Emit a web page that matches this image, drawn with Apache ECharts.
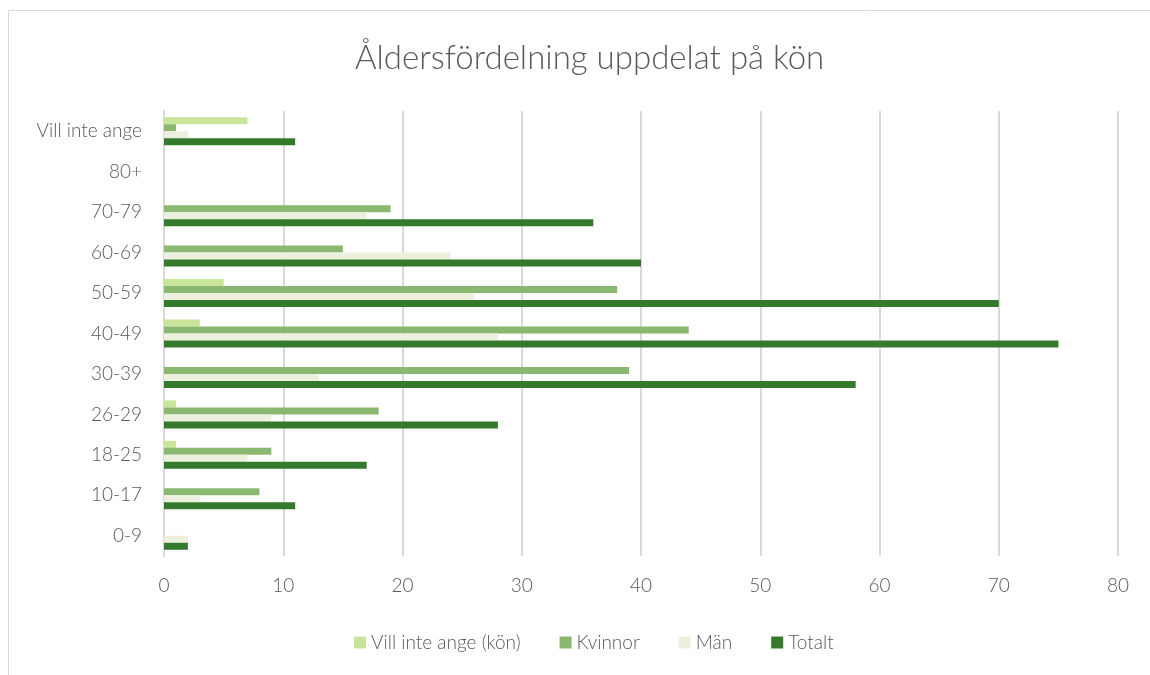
<!DOCTYPE html>
<html>
<head>
<meta charset="utf-8">
<script src="https://cdn.jsdelivr.net/npm/echarts@6/dist/echarts.min.js"></script>
<style>
  html, body { margin: 0; padding: 0; background: #fff; }
  #chart { width: 1150px; height: 675px; }
</style>
</head>
<body>
<div id="chart"></div>
<script>
// categories, bottom to top
const categories = ["0-9", "10-17", "18-25", "26-29", "30-39", "40-49", "50-59", "60-69", "70-79", "80+", "Vill inte ange"];
const villInteAnge = [0, 0, 1, 1, 0, 3, 5, 0, 0, 0, 7];
const kvinnor = [0, 8, 9, 18, 39, 44, 38, 15, 19, 0, 1];
const man = [2, 3, 7, 9, 13, 28, 26, 24, 17, 0, 2];
const totalt = [2, 11, 17, 28, 58, 75, 70, 40, 36, 0, 11];

const textColor = "#595959";
const font = "Lato";

const chart = echarts.init(document.getElementById("chart"));

function bar(name, color, data) {
  return {
    name: name,
    type: "bar",
    data: data,
    barWidth: 7,
    barGap: "0%",
    itemStyle: { color: color },
  };
}

chart.setOption({
  animation: false,
  textStyle: { fontFamily: font, fontWeight: 300 },
  graphic: [
    {
      type: "rect",
      shape: { x: 8.5, y: 10.5, width: 1200, height: 700 },
      style: { fill: null, stroke: "#d9d9d9", lineWidth: 1 },
      silent: true,
    },
  ],
  title: {
    text: "Åldersfördelning uppdelat på kön",
    left: 350,
    top: 37,
    textStyle: { color: textColor, fontSize: 33, fontWeight: 300, fontFamily: font },
  },
  legend: {
    bottom: 18,
    left: 349,
    itemWidth: 12,
    itemHeight: 12,
    itemGap: 39,
    icon: "rect",
    textStyle: { color: textColor, fontSize: 19, fontFamily: font, fontWeight: 300 },
    data: ["Vill inte ange (kön)", "Kvinnor", "Män", "Totalt"],
  },
  grid: {
    left: 164,
    right: 32,
    top: 111,
    bottom: 119,
  },
  xAxis: {
    type: "value",
    min: 0,
    max: 80,
    interval: 10,
    axisLine: { show: false },
    axisTick: { show: false },
    axisLabel: { color: textColor, fontSize: 19, margin: 20, fontFamily: font },
    splitLine: { lineStyle: { color: "#d9d9d9", width: 2 } },
  },
  yAxis: {
    type: "category",
    data: categories,
    axisLine: { lineStyle: { color: "#d9d9d9", width: 2 } },
    axisTick: { show: false },
    axisLabel: { color: textColor, fontSize: 19, margin: 22, fontFamily: font },
  },
  series: [
    bar("Vill inte ange (kön)", "#c9e59a", villInteAnge),
    bar("Kvinnor", "#8ab870", kvinnor),
    bar("Män", "#ecf0dd", man),
    bar("Totalt", "#357a2c", totalt),
  ],
});
</script>
</body>
</html>
